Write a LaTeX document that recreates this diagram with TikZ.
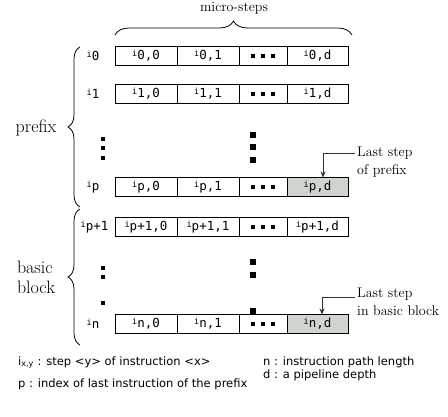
\documentclass[tikz,border=0pt]{standalone}
\usepackage{fontspec}
\newfontfamily\monofont{DejaVu Sans Mono}
\newfontfamily\legendfont{DejaVu Sans}
\usetikzlibrary{arrows.meta, positioning, decorations.pathreplacing}
\definecolor{lastgray}{RGB}{208,212,206}
\newcommand{\instr}[1]{\raisebox{3pt}{\fontsize{8.5}{8.5}\selectfont i}#1}
\newcommand{\stepdots}{\rule{3.5pt}{3.5pt}\hspace{6.5pt}\rule{3.5pt}{3.5pt}\hspace{6.5pt}\rule{3.5pt}{3.5pt}}

\begin{document}
\begin{tikzpicture}[
  x=1pt, y=-1pt,
  cell/.style = {draw, line width=1pt, inner sep=0pt, outer sep=0pt,
                 minimum height=19pt, font=\monofont\fontsize{12.5}{13}\selectfont},
  wide/.style = {cell, minimum width=62pt},
  gap/.style = {cell, minimum width=48pt},
  last/.style = {cell, minimum width=61pt},
  lbl/.style = {font=\monofont\fontsize{12.5}{13}\selectfont, inner sep=0pt},
  sdot/.style = {fill, inner sep=0pt, minimum size=3.5pt},
  bdot/.style = {fill, inner sep=0pt, minimum size=6pt},
  note/.style = {font=\fontsize{14}{18}\selectfont, align=left, inner sep=0pt},
  side/.style = {font=\fontsize{18}{20}\selectfont, align=left, inner sep=0pt},
  legend/.style = {font=\legendfont\fontsize{11.5}{13}\selectfont, inner sep=0pt},
  brace/.style = {decorate, line width=0.8pt},
  callout/.style = {-{Stealth[length=6pt,width=5pt]}, line width=0.9pt, black!80}
]
\useasboundingbox (0,0) rectangle (448,416);

% Column header
\node[note] (microsteps) at (234,8) {micro-steps};

% Row i_0
\node[lbl] (l0) at (93,56) {\instr{0}};
\node[wide] (c00) at (146,56) {\instr{0,0}};
\node[wide, right=0pt of c00] (c01) {\instr{0,1}};
\node[gap, right=0pt of c01] (c0g) {\stepdots};
\node[last, right=0pt of c0g] (c0d) {\instr{0,d}};

% Row i_1
\node[lbl] (l1) at (93,94) {\instr{1}};
\node[wide] (c10) at (146,94) {\instr{1,0}};
\node[wide, right=0pt of c10] (c11) {\instr{1,1}};
\node[gap, right=0pt of c11] (c1g) {\stepdots};
\node[last, right=0pt of c1g] (c1d) {\instr{1,d}};

% Row i_p
\node[lbl] (lp) at (93,187) {\instr{p}};
\node[wide] (cp0) at (146,187) {\instr{p,0}};
\node[wide, right=0pt of cp0] (cp1) {\instr{p,1}};
\node[gap, right=0pt of cp1] (cpg) {\stepdots};
\node[last, fill=lastgray, right=0pt of cpg] (cpd) {\instr{p,d}};

% Row i_{p+1}
\node[lbl] (lq) at (94.5,227) {\instr{p+1}};
\node[wide] (cq0) at (146,227) {\instr{p+1,0}};
\node[wide, right=0pt of cq0] (cq1) {\instr{p+1,1}};
\node[gap, right=0pt of cq1] (cqg) {\stepdots};
\node[last, right=0pt of cqg] (cqd) {\instr{p+1,d}};

% Row i_n
\node[lbl] (ln) at (93,324) {\instr{n}};
\node[wide] (cn0) at (146,324) {\instr{n,0}};
\node[wide, right=0pt of cn0] (cn1) {\instr{n,1}};
\node[gap, right=0pt of cn1] (cng) {\stepdots};
\node[last, fill=lastgray, right=0pt of cng] (cnd) {\instr{n,d}};

% Vertical dots
\node[sdot] (ldot1) at (103,139) {};
\node[sdot] (ldot2) at (103,148) {};
\node[sdot] (ldot3) at (103,158) {};
\node[sdot] (ldot4) at (103,268) {};
\node[sdot] (ldot5) at (103,277) {};
\node[sdot] (ldot6) at (103,303) {};
\node[bdot] (mdot1) at (253,135) {};
\node[bdot] (mdot2) at (253,147) {};
\node[bdot] (mdot3) at (253,160) {};
\node[bdot] (mdot4) at (253,262) {};
\node[bdot] (mdot5) at (253,275) {};
\node[bdot] (mdot6) at (253,311) {};

% Braces
\draw[brace, decoration={brace, amplitude=14pt}]
  ([yshift=11.5pt]c00.north west) -- ([xshift=4pt, yshift=11.5pt]c0d.north east);
\draw[brace, decoration={brace, amplitude=12pt}] (80,207) -- (80,47);
\draw[brace, decoration={brace, amplitude=12pt}] (80,345) -- (80,209);
\node[side] (prefix) at (36,128) {prefix};
\node[side] (basicblock) at (36,277) {basic\\block};

% Callouts
\node[note, anchor=west] (noteprefix) at (357,162) {Last step\\of prefix};
\coordinate (prefixtip) at (355,153);
\draw[callout] (prefixtip) -| ([xshift=5.5pt]cpd.north);
\node[note, anchor=west] (noteblock) at (357,302) {Last step\\in basic block};
\coordinate (blocktip) at (355,297);
\draw[callout] (blocktip) -| ([xshift=4.5pt]cnd.north);

% Legend
\node[legend, anchor=base west] (legxy) at (18,365) {i\textsubscript{x,y} : step <y> of instruction <x>};
\node[legend, anchor=base west] (legp) at (18,387) {p : index of last instruction of the prefix};
\node[legend, anchor=base west] (legn) at (263,365) {n : instruction path length};
\node[legend, anchor=base west] (legd) at (263,378) {d : a pipeline depth};

\end{tikzpicture}
\end{document}
